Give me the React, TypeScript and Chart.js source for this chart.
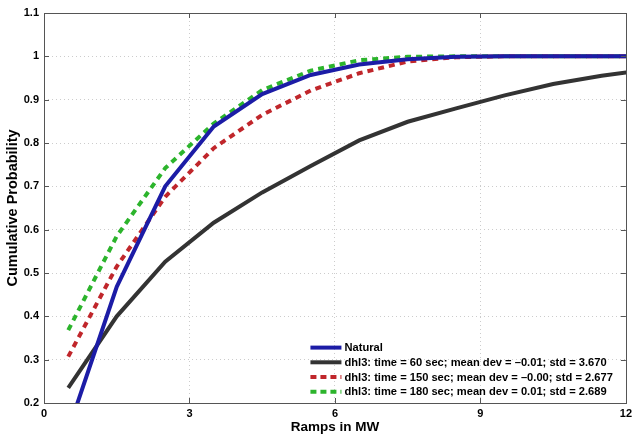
import React, { useEffect, useRef } from "react";
import { Chart, registerables } from "chart.js";

Chart.register(...registerables);

const xValues = [0.5, 1.5, 2.5, 3.5, 4.5, 5.5, 6.5, 7.5, 8.5, 9.5, 10.5, 11.5, 12.5];
const natural = [0.137, 0.468, 0.7, 0.838, 0.913, 0.957, 0.981, 0.993, 0.999, 1, 1, 1, 1];
const dhl60 = [0.235, 0.4, 0.526, 0.616, 0.686, 0.747, 0.806, 0.849, 0.88, 0.91, 0.936, 0.955, 0.97];
const dhl150 = [0.307, 0.515, 0.676, 0.788, 0.865, 0.921, 0.961, 0.988, 0.998, 1, 1, 1, 1];
const dhl180 = [0.368, 0.585, 0.742, 0.845, 0.922, 0.967, 0.991, 0.999, 1, 1, 1, 1, 1];

const seriesLabels = [
  "Natural",
  "dhl3: time = 60 sec; mean dev = \u20130.01; std = 3.670",
  "dhl3: time = 150 sec; mean dev = \u20130.00; std = 2.677",
  "dhl3: time = 180 sec; mean dev = 0.01; std = 2.689",
];
const xTicks = [0, 3, 6, 9, 12];
const yTicks = [0.2, 0.3, 0.4, 0.5, 0.6, 0.7, 0.8, 0.9, 1, 1.1];
const xTitle = "Ramps in MW";
const yTitle = "Cumulative Probability";

const FONT = "'Liberation Sans', Arial, Helvetica, sans-serif";

const toPoints = (ys: number[]) => ys.map((y, i) => ({ x: xValues[i], y }));

const boxPlugin = {
  id: "matlabBox",
  afterDraw(chart: any) {
    const { ctx, chartArea } = chart;
    const { left, right, top, bottom } = chartArea;
    const xs = chart.scales.x;
    const ys = chart.scales.y;
    ctx.save();
    ctx.strokeStyle = "#555555";
    ctx.lineWidth = 1;
    ctx.setLineDash([]);
    ctx.strokeRect(Math.round(left) + 0.5, Math.round(top) + 0.5, Math.round(right - left), Math.round(bottom - top));
    ctx.beginPath();
    const tl = 5;
    xTicks.forEach((v) => {
      const px = Math.round(xs.getPixelForValue(v)) + 0.5;
      ctx.moveTo(px, bottom);
      ctx.lineTo(px, bottom - tl);
      ctx.moveTo(px, top);
      ctx.lineTo(px, top + tl);
    });
    yTicks.forEach((v) => {
      const py = Math.round(ys.getPixelForValue(v)) + 0.5;
      ctx.moveTo(left, py);
      ctx.lineTo(left + tl, py);
      ctx.moveTo(right, py);
      ctx.lineTo(right - tl, py);
    });
    ctx.stroke();

    // legend inside chart area, bottom right
    ctx.font = `bold 11.15px ${FONT}`;
    ctx.textBaseline = "middle";
    ctx.textAlign = "left";
    const ds = chart.data.datasets;
    let maxW = 0;
    ds.forEach((d: any) => {
      maxW = Math.max(maxW, ctx.measureText(d.label).width);
    });
    const textX = right - 13 - maxW;
    const rowH = 14.7;
    ds.forEach((d: any, i: number) => {
      const cy = bottom - 11.3 - (ds.length - 1 - i) * rowH;
      ctx.save();
      ctx.strokeStyle = d.borderColor;
      ctx.lineWidth = d.borderWidth;
      ctx.setLineDash(d.borderDash && d.borderDash.length ? [6, 4] : []);
      ctx.beginPath();
      ctx.moveTo(textX - 34, cy);
      ctx.lineTo(textX - 3, cy);
      ctx.stroke();
      ctx.restore();
      ctx.fillStyle = "#000";
      ctx.fillText(d.label, textX, cy + 0.5);
    });
    ctx.restore();
  },
};

export default function App() {
  const canvasRef = useRef<HTMLCanvasElement | null>(null);

  useEffect(() => {
    if (!canvasRef.current) return;
    const chart = new Chart(canvasRef.current, {
      type: "line",
      data: {
        datasets: [
          {
            label: seriesLabels[0],
            data: toPoints(natural),
            borderColor: "#1c1ca6",
            borderWidth: 4,
            pointRadius: 0,
            tension: 0,
            clip: 0,
          },
          {
            label: seriesLabels[1],
            data: toPoints(dhl60),
            borderColor: "#333333",
            borderWidth: 4,
            pointRadius: 0,
            tension: 0,
            clip: 0,
          },
          {
            label: seriesLabels[2],
            data: toPoints(dhl150),
            borderColor: "#c0262b",
            borderWidth: 4,
            borderDash: [6, 5],
            pointRadius: 0,
            tension: 0,
            clip: 0,
          },
          {
            label: seriesLabels[3],
            data: toPoints(dhl180),
            borderColor: "#2cb42c",
            borderWidth: 4,
            borderDash: [6, 5],
            pointRadius: 0,
            tension: 0,
            clip: 0,
          },
        ],
      },
      options: {
        responsive: false,
        animation: false,
        layout: { padding: { top: 13, right: 5, left: 0, bottom: 0 } },
        plugins: {
          legend: { display: false },
          tooltip: { enabled: false },
        },
        scales: {
          x: {
            type: "linear",
            min: 0,
            max: 12,
            afterBuildTicks: (s: any) => {
              s.ticks = xTicks.map((v) => ({ value: v }));
            },
            afterFit: (s: any) => {
              s.height = 34;
            },
            ticks: {
              padding: 4,
              color: "#000",
              font: { family: FONT, size: 11, weight: "bold" },
              maxRotation: 0,
              callback: (v: any) => String(v),
            },
            grid: {
              color: (c: any) =>
                c.tick && (c.tick.value === 0 || c.tick.value === 12) ? "rgba(0,0,0,0)" : "#cccccc",
              lineWidth: 1,
              drawTicks: false,
            },
            border: { display: false, dash: [1, 3] },
            title: {
              display: true,
              text: xTitle,
              color: "#000",
              font: { family: FONT, size: 13.5, weight: "bold" },
              padding: { top: 0, bottom: 2 },
            },
          },
          y: {
            type: "linear",
            min: 0.2,
            max: 1.1,
            afterBuildTicks: (s: any) => {
              s.ticks = yTicks.map((v) => ({ value: v }));
            },
            afterFit: (s: any) => {
              s.width = 44;
            },
            ticks: {
              padding: 5,
              color: "#000",
              font: { family: FONT, size: 11, weight: "bold" },
              callback: (v: any) => String(Math.round(Number(v) * 10) / 10),
            },
            grid: {
              color: (c: any) =>
                c.tick && (Math.abs(c.tick.value - 0.2) < 1e-6 || Math.abs(c.tick.value - 1.1) < 1e-6)
                  ? "rgba(0,0,0,0)"
                  : "#cccccc",
              lineWidth: 1,
              drawTicks: false,
            },
            border: { display: false, dash: [1, 3] },
            title: {
              display: true,
              text: yTitle,
              color: "#000",
              font: { family: FONT, size: 14.5, weight: "bold" },
              padding: { top: 4, bottom: 0 },
            },
          },
        },
      },
      plugins: [boxPlugin],
    } as any);
    return () => chart.destroy();
  }, []);

  return (
    <div style={{ position: "fixed", left: 0, top: 0, width: 636, height: 437, background: "#fff" }}>
      <canvas ref={canvasRef} width={636} height={437} style={{ display: "block", width: 636, height: 437 }} />
    </div>
  );
}
